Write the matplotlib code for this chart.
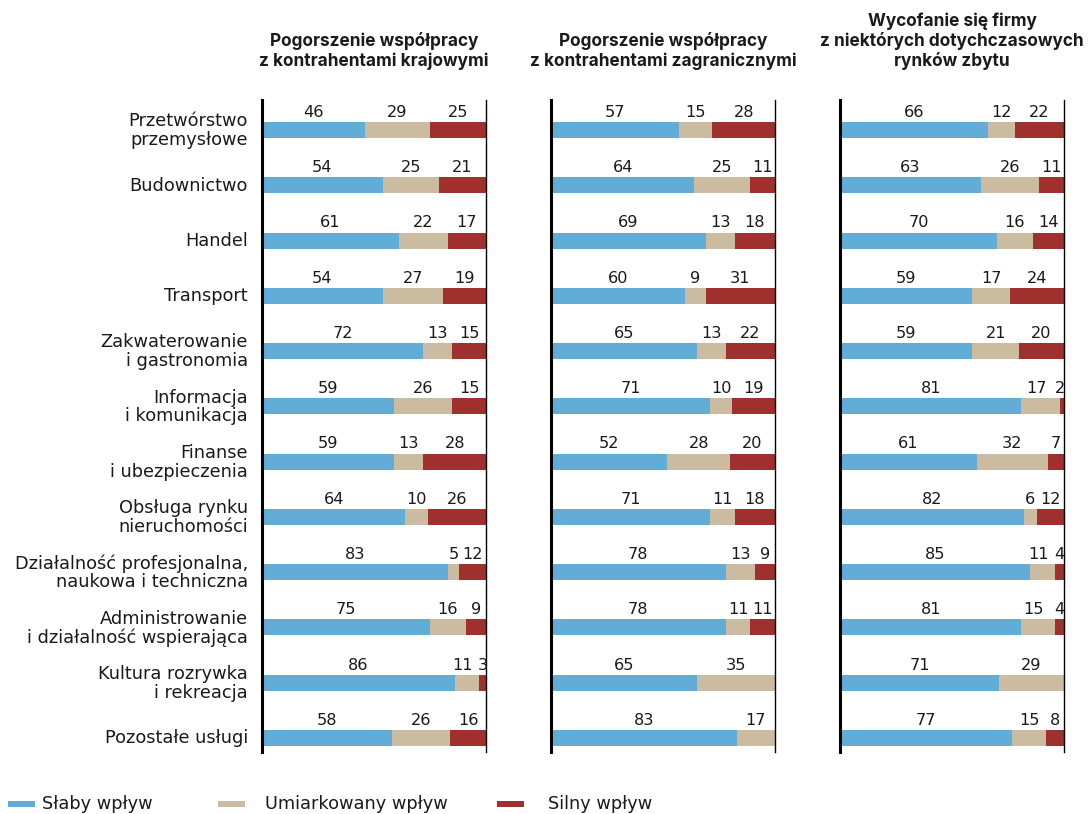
import numpy as np
import matplotlib.pyplot as plt
from matplotlib.patches import Rectangle

plt.rcParams["font.family"] = ["DejaVu Sans"]

categories = [
    "Przetwórstwo\nprzemysłowe",
    "Budownictwo",
    "Handel",
    "Transport",
    "Zakwaterowanie\ni gastronomia",
    "Informacja\ni komunikacja",
    "Finanse\ni ubezpieczenia",
    "Obsługa rynku\nnieruchomości",
    "Działalność profesjonalna,\nnaukowa i techniczna",
    "Administrowanie\ni działalność wspierająca",
    "Kultura rozrywka\ni rekreacja",
    "Pozostałe usługi",
]

titles = [
    "Pogorszenie współpracy\nz kontrahentami krajowymi",
    "Pogorszenie współpracy\nz kontrahentami zagranicznymi",
    "Wycofanie się firmy\nz niektórych dotychczasowych\nrynków zbytu",
]

series_names = ["Słaby wpływ", "Umiarkowany wpływ", "Silny wpływ"]
colors = ["#62acd8", "#cbbba0", "#a0302e"]

# panel 1 - krajowi
p1_slaby = [46, 54, 61, 54, 72, 59, 59, 64, 83, 75, 86, 58]
p1_umiark = [29, 25, 22, 27, 13, 26, 13, 10, 5, 16, 11, 26]
p1_silny = [25, 21, 17, 19, 15, 15, 28, 26, 12, 9, 3, 16]

# panel 2 - zagraniczni
p2_slaby = [57, 64, 69, 60, 65, 71, 52, 71, 78, 78, 65, 83]
p2_umiark = [15, 25, 13, 9, 13, 10, 28, 11, 13, 11, 35, 17]
p2_silny = [28, 11, 18, 31, 22, 19, 20, 18, 9, 11, 0, 0]

# panel 3 - wycofanie
p3_slaby = [66, 63, 70, 59, 59, 81, 61, 82, 85, 81, 71, 77]
p3_umiark = [12, 26, 16, 17, 21, 17, 32, 6, 11, 15, 29, 15]
p3_silny = [22, 11, 14, 24, 20, 2, 7, 12, 4, 4, 0, 8]

panels = [
    (p1_slaby, p1_umiark, p1_silny),
    (p2_slaby, p2_umiark, p2_silny),
    (p3_slaby, p3_umiark, p3_silny),
]

W, H = 1088, 814
fig = plt.figure(figsize=(W / 100, H / 100), dpi=100)

lefts = [262, 551, 840]
pw = 224
top, bottom = 100, 752
y = np.arange(len(categories))
txt_col = "#1a1a1a"

for i, (left, data, title) in enumerate(zip(lefts, panels, titles)):
    ax = fig.add_axes([left / W, 1 - bottom / H, pw / W, (bottom - top) / H])
    start = np.zeros(len(categories))
    silny = np.array(data[2])
    for k, (vals, col) in enumerate(zip(data, colors)):
        vals = np.array(vals, dtype=float)
        ax.barh(y, vals, left=start, height=0.29, color=col, linewidth=0)
        for j, (yy, s, v) in enumerate(zip(y, start, vals)):
            if v > 0:
                # keep tiny end labels inside the panel, nudge neighbour left
                xc = min(s + v / 2, 98.4)
                if k == 1 and 0 < silny[j] < 5:
                    xc -= 2.0
                ax.text(xc, yy - 0.32, f"{int(v)}", ha="center", va="center",
                        fontsize=11.6, color=txt_col)
        start += vals
    ax.set_xlim(0, 100)
    ax.set_ylim(11.253, -0.543)
    ax.set_xticks([])
    for s in ["top", "bottom"]:
        ax.spines[s].set_visible(False)
    ax.spines["left"].set_linewidth(2.2)
    ax.spines["right"].set_linewidth(1.0)
    if i == 0:
        ax.set_yticks(y - 0.03)
        ax.set_yticklabels(categories, fontsize=12.8, linespacing=1.05, ha="right",
                           color=txt_col)
        ax.tick_params(axis="y", length=0, pad=10)
    else:
        ax.set_yticks([])
    ax.text(0.5, 1.0 + 30 / (bottom - top), title, transform=ax.transAxes,
            ha="center", va="bottom", fontsize=12.4, fontweight="bold",
            family="Inter", linespacing=1.15, color=txt_col)

# legend
leg_items = [(8, 42), (218, 265), (497, 548)]
for (hx, tx), name, col in zip(leg_items, series_names, colors):
    fig.add_artist(Rectangle((hx / W, 1 - 807 / H), 27 / W, 6 / H,
                             transform=fig.transFigure, color=col, linewidth=0))
    fig.text(tx / W, 1 - 804 / H, name, ha="left", va="center", fontsize=12.8,
             color=txt_col)

fig.savefig("out.png", dpi=100)
